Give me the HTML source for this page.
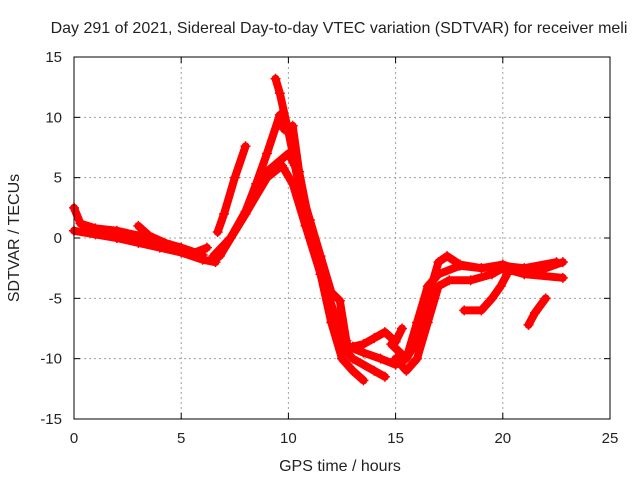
<!DOCTYPE html>
<html><head><meta charset="utf-8"><style>
body{margin:0;background:#fff}
svg text{font-family:"Liberation Sans",sans-serif;font-size:14px;fill:#222}
svg text.big{font-size:16px}
</style></head><body>
<svg width="640" height="480" xmlns="http://www.w3.org/2000/svg">
<rect width="640" height="480" fill="#fff"/>
<g id="grid"></g>
<g id="series"></g>
<g id="axes"></g>
<text class="big" x="339" y="33" text-anchor="middle">Day 291 of 2021, Sidereal Day-to-day VTEC variation (SDTVAR) for receiver meli</text>
<text class="big" x="340" y="471" text-anchor="middle">GPS time / hours</text>
<text class="big" transform="translate(19,238) rotate(-90)" text-anchor="middle">SDTVAR / TECUs</text>
</svg>
<script>
const xTicks=[0,5,10,15,20,25];
const yTicks=[-15,-10,-5,0,5,10,15];
const track1=[[9.4,13.2],[9.6,12],[10,8.8],[10.5,4.5],[11,1.5],[11.5,-1.5],[12,-4.5],[12.4,-5.2],[12.7,-8.5]];
const track2=[[6.6,-1.8],[7.3,0],[8,2.2],[8.5,4.5],[9,7],[9.6,10.2],[9.8,9],[10.2,9.3],[10.5,5.5],[11,1],[11.5,-3],[12,-7],[12.5,-10],[13,-11],[13.5,-11.8]];
const track3=[[6.5,-1.5],[7.3,0],[8,2],[9,5.5],[10,7],[10.3,6],[10.8,2],[11.5,-2],[12,-6],[12.5,-9],[13,-10],[14,-11],[14.5,-11.5]];
const track4=[[6.8,-1.5],[8,2],[9,5],[9.7,6],[10.2,4.5],[10.8,1],[11.5,-3],[12.3,-7],[12.8,-9],[13.5,-9.5],[14.3,-10],[15,-10.5],[15.5,-10],[16,-7],[16.5,-4],[17,-3],[18,-2.3],[19,-2.5],[20,-2.2],[21,-2.8],[22,-2.5],[22.8,-2]];
const track5=[[6.7,0.5],[7,2],[7.5,5],[8,7.6]];
const track6=[[0,0.6],[1,0.3],[2,0],[3,-0.4],[4,-0.8],[5,-1.2],[6,-1.8],[6.6,-2]];
const track7=[[15,-10],[15.5,-11],[16,-10],[16.5,-7],[17,-4],[17.5,-3.5],[18.5,-3.5],[19.5,-3],[20,-2.5],[21,-3],[22.8,-3.3]];
const track8=[[14.8,-8.8],[15.5,-10],[16,-8.5],[16.5,-5],[17,-2],[17.4,-1.5],[18,-2.2],[19,-2.5],[20,-2.3],[21,-2.5],[22.5,-2]];
const track9=[[18.2,-6],[19,-6],[19.5,-5],[19.9,-4],[20.2,-3]];
const track10=[[21.2,-7.2],[21.5,-6.2],[22,-5]];
const track11=[[0,2.5],[0.3,1.2],[1,0.8],[2,0.6],[3,0.2],[4,-0.3],[5,-0.8],[6,-1.4]];
const track12=[[13,-9],[13.5,-8.8],[14,-8.3],[14.5,-7.8],[15,-8.6],[15.3,-7.5]];
const track13=[[3,1],[3.5,0.2],[4.5,-0.6],[5.5,-1.3],[6.2,-0.8]];
const tracks=[track1,track2,track3,track4,track5,track6,track7,track8,track9,track10,track11,track12,track13];
const X0=74,X1=610,Y0=57,Y1=419;
const sx=t=>X0+(t-0)/(25-0)*(X1-X0);
const sy=v=>Y1-(v+15)/30*(Y1-Y0);
const NS="http://www.w3.org/2000/svg";
function mk(tag,attrs,parent){const e=document.createElementNS(NS,tag);for(const k in attrs)e.setAttribute(k,attrs[k]);parent.appendChild(e);return e;}
const grid=document.getElementById('grid'),axes=document.getElementById('axes'),series=document.getElementById('series');
xTicks.forEach(t=>{
  if(t>0&&t<25){const l=mk('line',{x1:sx(t),x2:sx(t),y1:Y0,y2:Y1,stroke:'#a0a0a0','stroke-dasharray':'2,3'},grid);
  }
  const k=mk('line',{x1:sx(t),x2:sx(t),y1:Y1,y2:Y1-6,stroke:'#000'},axes);
  
  const k2=mk('line',{x1:sx(t),x2:sx(t),y1:Y0,y2:Y0+6,stroke:'#000'},axes);
  
  const tx=mk('text',{x:sx(t),y:Y1+24,'text-anchor':'middle',style:'font-size:15px'},axes);tx.textContent=t;
  
});
yTicks.forEach(v=>{
  if(v>-15&&v<15){const l=mk('line',{x1:X0,x2:X1,y1:sy(v),y2:sy(v),stroke:'#a0a0a0','stroke-dasharray':'2,3'},grid);
  }
  const k=mk('line',{x1:X0,x2:X0+6,y1:sy(v),y2:sy(v),stroke:'#000'},axes);
  
  const k2=mk('line',{x1:X1,x2:X1-6,y1:sy(v),y2:sy(v),stroke:'#000'},axes);
  
  const tx=mk('text',{x:X0-12,y:sy(v)+5,'text-anchor':'end',style:'font-size:15px'},axes);tx.textContent=v;
  
});
const fr=mk('rect',{x:X0,y:Y0,width:X1-X0,height:Y1-Y0,fill:'none',stroke:'#000'},axes);

tracks.forEach(tr=>{
  const p=mk('polyline',{points:tr.map(d=>sx(d[0])+','+sy(d[1])).join(' '),fill:'none',stroke:'#f00','stroke-width':8,'stroke-linejoin':'round','stroke-linecap':'round'},series);
  
  tr.forEach(d=>{
    const m=mk('path',{d:`M${sx(d[0])-5},${sy(d[1])}h10M${sx(d[0])},${sy(d[1])-5}v10`,stroke:'#f00','stroke-width':1.5},series);
    
  });
});
</script>
</body></html>
